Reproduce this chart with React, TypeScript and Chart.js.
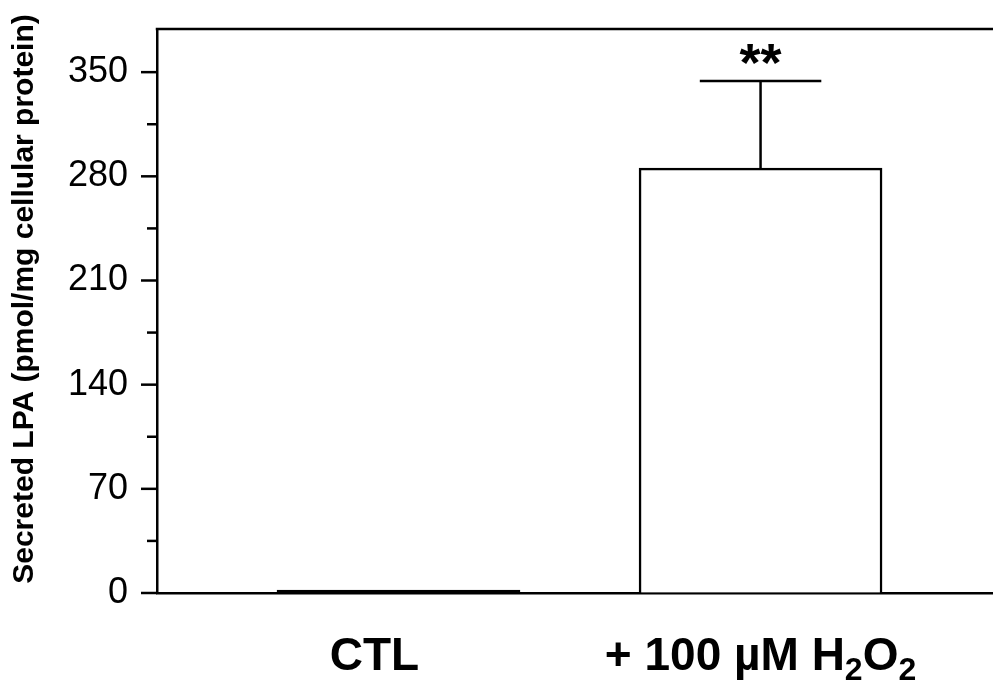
import React, { useEffect, useRef } from 'react';
import { Chart, registerables } from 'chart.js';

Chart.register(...registerables);

// ---- data ----
const CATEGORIES = ['CTL', '+ 100 µM H2O2'];
// label pieces (sub = subscript) for the category labels
const LABEL_PARTS: { t: string; sub?: boolean }[][] = [
  [{ t: 'CTL' }],
  [{ t: '+ 100 µM H' }, { t: '2', sub: true }, { t: 'O' }, { t: '2', sub: true }],
];
const POSITIONS = [0, 1];
const MEANS = [2, 285.5];
const SEMS = [0, 58.5];
const SIGNIF = ['', '**'];
const Y_MIN = 0;
const Y_MAX = 379;
const Y_MINOR_STEP = 35;
const Y_LABEL_STEP = 70;
const Y_TITLE = 'Secreted LPA (pmol/mg cellular protein)';

// ---- style ----
const FONT = '"Liberation Sans", Arial, Helvetica, sans-serif';
const LINE_W = 2.5;
const LABEL_NUDGE = [-24, 0];
const BAR_FILLS = ['#000000', '#ffffff'];

const overlay = {
  id: 'overlay',
  afterDatasetsDraw(chart: any) {
    const ctx = chart.ctx;
    const area = chart.chartArea;
    const y = chart.scales.y;
    ctx.save();
    ctx.strokeStyle = '#000';
    ctx.fillStyle = '#000';
    ctx.lineWidth = LINE_W;
    ctx.lineCap = 'butt';

    // top frame line
    ctx.beginPath();
    ctx.moveTo(area.left - LINE_W / 2, area.top);
    ctx.lineTo(chart.width, area.top);
    ctx.stroke();

    // y tick marks (major/minor)
    for (const t of y.ticks) {
      const py = y.getPixelForValue(t.value);
      const len = t.value % Y_LABEL_STEP === 0 ? 16 : 10;
      ctx.beginPath();
      ctx.moveTo(area.left - len, py);
      ctx.lineTo(area.left, py);
      ctx.stroke();
    }

    // y title (rotated)
    ctx.save();
    ctx.translate(25, area.top + (area.bottom - area.top) / 2 - 12);
    ctx.rotate(-Math.PI / 2);
    ctx.font = `bold 30px ${FONT}`;
    ctx.textAlign = 'center';
    ctx.textBaseline = 'middle';
    ctx.fillText(Y_TITLE, 0, 0);
    ctx.restore();

    const meta = chart.getDatasetMeta(0);
    meta.data.forEach((el: any, i: number) => {
      const x = el.x;
      // error bar
      if (SEMS[i] > 0) {
        const yTop = y.getPixelForValue(MEANS[i] + SEMS[i]);
        ctx.beginPath();
        ctx.moveTo(x, el.y);
        ctx.lineTo(x, yTop);
        ctx.stroke();
        const half = el.width / 4;
        ctx.beginPath();
        ctx.moveTo(x - half, yTop);
        ctx.lineTo(x + half, yTop);
        ctx.stroke();
        if (SIGNIF[i]) {
          ctx.font = `bold 54px ${FONT}`;
          ctx.textAlign = 'center';
          ctx.textBaseline = 'alphabetic';
          ctx.fillText(SIGNIF[i], x, yTop);
        }
      }
      // category label
      const parts = LABEL_PARTS[i];
      const mainFont = `bold 46px ${FONT}`;
      const subFont = `bold 32px ${FONT}`;
      let total = 0;
      const widths = parts.map((p) => {
        ctx.font = p.sub ? subFont : mainFont;
        const w = ctx.measureText(p.t).width;
        total += w;
        return w;
      });
      let cx = x + LABEL_NUDGE[i] - total / 2;
      const base = area.bottom + 77;
      ctx.textAlign = 'left';
      ctx.textBaseline = 'alphabetic';
      parts.forEach((p, k) => {
        ctx.font = p.sub ? subFont : mainFont;
        ctx.fillText(p.t, cx, p.sub ? base + 10 : base);
        cx += widths[k];
      });
    });
    ctx.restore();
  },
};

export default function App() {
  const ref = useRef<HTMLCanvasElement>(null);
  useEffect(() => {
    if (!ref.current) return;
    const chart = new Chart(ref.current, {
      type: 'bar',
      data: {
        labels: CATEGORIES,
        datasets: [
          {
            label: 'Secreted LPA',
            data: POSITIONS.map((p, i) => ({ x: p, y: MEANS[i] })),
            backgroundColor: BAR_FILLS,
            borderColor: '#000000',
            borderWidth: LINE_W,
            barThickness: 243,
          },
        ],
      },
      options: {
        responsive: false,
        animation: false,
        devicePixelRatio: 1,
        layout: { padding: { top: 29, left: 0, right: 0, bottom: 0 } },
        plugins: {
          legend: { display: false },
          tooltip: { enabled: false },
        },
        scales: {
          x: {
            type: 'linear',
            offset: false,
            min: -0.667,
            max: 1.642,
            grid: { display: false },
            ticks: { display: false },
            border: { display: true, color: '#000', width: LINE_W },
            afterFit: (s: any) => {
              s.height = 93;
              s.paddingLeft = 0;
              s.paddingRight = 0;
            },
          },
          y: {
            type: 'linear',
            min: Y_MIN,
            max: Y_MAX,
            grid: {
              display: true,
              drawOnChartArea: false,
              color: 'rgba(0,0,0,0)',
              tickLength: 16,
            },
            border: { display: true, color: '#000', width: LINE_W },
            ticks: {
              stepSize: Y_MINOR_STEP,
              includeBounds: false,
              autoSkip: false,
              padding: 13,
              color: '#000',
              font: { family: FONT, size: 36 },
              callback: (v: any) => (Number(v) % Y_LABEL_STEP === 0 ? String(v) : ''),
            },
            title: { display: false },
            afterFit: (s: any) => {
              s.width = 157;
              s.paddingTop = 0;
              s.paddingBottom = 0;
            },
          },
        },
      },
      plugins: [overlay],
    });
    return () => chart.destroy();
  }, []);
  return (
    <div style={{ position: 'fixed', left: 0, top: 0, width: 993, height: 686, background: '#fff' }}>
      <canvas ref={ref} width={993} height={686} />
    </div>
  );
}
